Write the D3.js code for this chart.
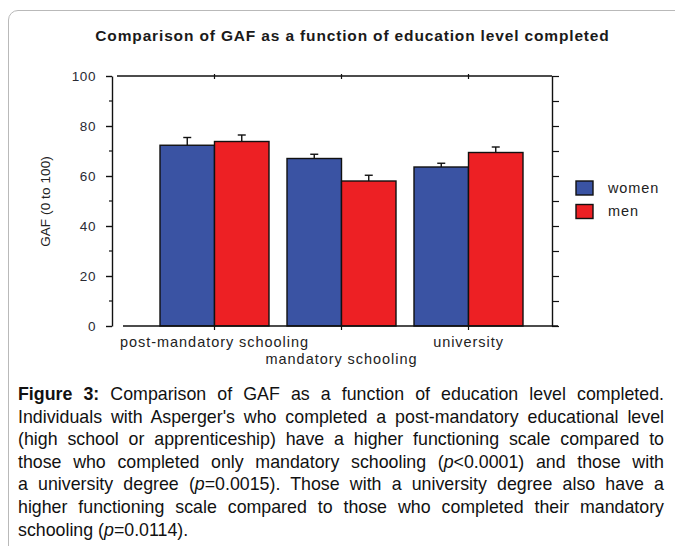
<!DOCTYPE html>
<html>
<head>
<meta charset="utf-8">
<script src="https://cdn.jsdelivr.net/npm/d3@7"></script>
<style>
  html, body { margin: 0; padding: 0; background: #fff; }
  body { width: 675px; height: 546px; overflow: hidden; position: relative; font-family: "Liberation Sans", Arial, sans-serif; }
  #frame { position: absolute; left: 8px; top: 10px; width: 700px; height: 600px; border: 1px solid #b9b9b9; border-radius: 10px; box-sizing: border-box; }
  svg { position: absolute; left: 0; top: 0; }
  #caption { position: absolute; left: 18px; top: 383px; width: 646px; font-size: 17.8px; line-height: 22.6px; color: #111; }
  #caption div { text-align: justify; text-align-last: justify; white-space: nowrap; }
  #caption div.last { text-align-last: left; }
</style>
</head>
<body>
<div id="frame"></div>
<div id="chart"></div>
<div id="caption"></div>
<script>
const title = "Comparison of GAF as a function of education level completed";
const categories = ["post-mandatory schooling", "mandatory schooling", "university"];
const series = ["women", "men"];
const womenValues = [72.3, 67.0, 63.6];
const menValues = [73.8, 58.0, 69.4];
const womenErrors = [3.1, 1.7, 1.5];
const menErrors = [2.6, 2.3, 2.2];
const yTicks = [0, 20, 40, 60, 80, 100];
const yLabel = "GAF (0 to 100)";
const colors = { women: "#3a53a3", men: "#ed2024" };
const captionLines = [
  "<b>Figure 3:</b> Comparison of GAF as a function of education level completed.",
  "Individuals with Asperger's who completed a post-mandatory educational level",
  "(high school or apprenticeship) have a higher functioning scale compared to",
  "those who completed only mandatory schooling (<i>p</i>&lt;0.0001) and those with",
  "a university degree (<i>p</i>=0.0015). Those with a university degree also have a",
  "higher functioning scale compared to those who completed their mandatory",
  "schooling (<i>p</i>=0.0114)."
];

const data = categories.map((c, i) => ({
  cat: c,
  bars: [
    { s: "women", v: womenValues[i], e: womenErrors[i] },
    { s: "men", v: menValues[i], e: menErrors[i] }
  ]
}));

const W = 675, H = 546;
const plot = { left: 112, right: 552, top: 76, bottom: 326 };
const FONT = "Liberation Sans, Arial, sans-serif";

const svg = d3.select("#chart").append("svg").attr("width", W).attr("height", H);

const y = d3.scaleLinear().domain([0, 100]).range([plot.bottom, plot.top]);
const x0 = d3.scaleBand().domain(categories).range([151, 532]).padding(0);
const x1 = d3.scaleBand().domain(series).range([9, 118]).padding(0);

// title
svg.append("text").attr("x", 352.5).attr("y", 40.5).attr("text-anchor", "middle")
  .attr("font-family", FONT).attr("font-weight", "bold")
  .attr("font-size", 15.5).attr("fill", "#1a1a1a").attr("letter-spacing", 0.85).text(title);

const axisColor = "#111";

// left axis
const yAxis = d3.axisLeft(y).tickValues(yTicks).tickSize(6).tickPadding(10).tickSizeOuter(0);
const gY = svg.append("g").attr("transform", `translate(${plot.left},0)`).call(yAxis);
gY.select(".domain").attr("stroke", axisColor).attr("stroke-width", 1.4);
gY.selectAll(".tick line").attr("stroke", axisColor).attr("stroke-width", 1.4);
gY.selectAll(".tick text").attr("font-family", FONT)
  .attr("font-size", 13.5).attr("fill", "#2a2a33").attr("letter-spacing", 0.6);
// minor ticks left
svg.append("g").selectAll("line").data(d3.range(10, 100, 20)).join("line")
  .attr("x1", plot.left - 3).attr("x2", plot.left).attr("y1", d => y(d)).attr("y2", d => y(d))
  .attr("stroke", axisColor).attr("stroke-width", 1.2);

// right axis
const gR = svg.append("g").attr("transform", `translate(${plot.right},0)`)
  .call(d3.axisRight(y).tickValues(d3.range(0, 101, 10)).tickSize(7).tickSizeOuter(0).tickFormat(""));
gR.select(".domain").attr("stroke", axisColor).attr("stroke-width", 1.4);
gR.selectAll(".tick line").attr("stroke", axisColor).attr("stroke-width", 1.2);

// top line
svg.append("line").attr("x1", 117).attr("x2", plot.right).attr("y1", y(100)).attr("y2", y(100))
  .attr("stroke", axisColor).attr("stroke-width", 1.4);
svg.append("g").selectAll("line").data(categories).join("line")
  .attr("x1", d => x0(d) + x0.bandwidth() / 2).attr("x2", d => x0(d) + x0.bandwidth() / 2)
  .attr("y1", y(100) - 2).attr("y2", y(100) + 3).attr("stroke", axisColor).attr("stroke-width", 1.2);

// bars
const g = svg.append("g").selectAll("g").data(data).join("g")
  .attr("transform", d => `translate(${x0(d.cat)},0)`);

// error bars (behind bars)
g.selectAll("g.err").data(d => d.bars).join("g").attr("class", "err").each(function(d) {
  const cx = x1(d.s) + x1.bandwidth() / 2;
  const sel = d3.select(this);
  sel.append("line").attr("x1", cx).attr("x2", cx).attr("y1", y(d.v)).attr("y2", y(d.v + d.e))
    .attr("stroke", "#111").attr("stroke-width", 1.4);
  sel.append("line").attr("x1", cx - 4).attr("x2", cx + 4).attr("y1", y(d.v + d.e)).attr("y2", y(d.v + d.e))
    .attr("stroke", "#111").attr("stroke-width", 1.4);
});

g.selectAll("rect").data(d => d.bars).join("rect")
  .attr("x", d => x1(d.s)).attr("width", x1.bandwidth())
  .attr("y", d => y(d.v)).attr("height", d => y(0) - y(d.v))
  .attr("fill", d => colors[d.s]).attr("stroke", "#111").attr("stroke-width", 1.4);

// bottom line
svg.append("line").attr("x1", 123).attr("x2", 558).attr("y1", y(0)).attr("y2", y(0))
  .attr("stroke", axisColor).attr("stroke-width", 1.4);
svg.append("g").selectAll("line").data(categories).join("line")
  .attr("x1", d => x0(d) + x0.bandwidth() / 2).attr("x2", d => x0(d) + x0.bandwidth() / 2)
  .attr("y1", y(0)).attr("y2", y(0) + 4).attr("stroke", axisColor).attr("stroke-width", 1.2);

// category labels (staggered)
svg.append("g").selectAll("text").data(categories).join("text")
  .attr("x", d => x0(d) + x0.bandwidth() / 2)
  .attr("y", (d, i) => i % 2 === 1 ? 364 : 347)
  .attr("text-anchor", "middle")
  .attr("font-family", FONT).attr("font-size", 14.5)
  .attr("letter-spacing", 0.95).attr("fill", "#222").text(d => d);

// y label
svg.append("text").attr("transform", `translate(50,201.5) rotate(-90)`).attr("text-anchor", "middle")
  .attr("font-family", FONT).attr("font-size", 13.5)
  .attr("fill", "#222").attr("letter-spacing", 0.1).text(yLabel);

// legend
const lg = svg.append("g").selectAll("g").data(series).join("g")
  .attr("transform", (d, i) => `translate(576,${181 + i * 23.5})`);
lg.append("rect").attr("width", 17).attr("height", 14).attr("fill", d => colors[d])
  .attr("stroke", "#111").attr("stroke-width", 1.4);
lg.append("text").attr("x", 32).attr("y", 11.5).attr("font-family", FONT)
  .attr("font-size", 14.5).attr("letter-spacing", 0.9).attr("fill", "#222").text(d => d);

// caption
d3.select("#caption").selectAll("div").data(captionLines).join("div")
  .classed("last", (d, i) => i === captionLines.length - 1)
  .html(d => d);
</script>
</body>
</html>
